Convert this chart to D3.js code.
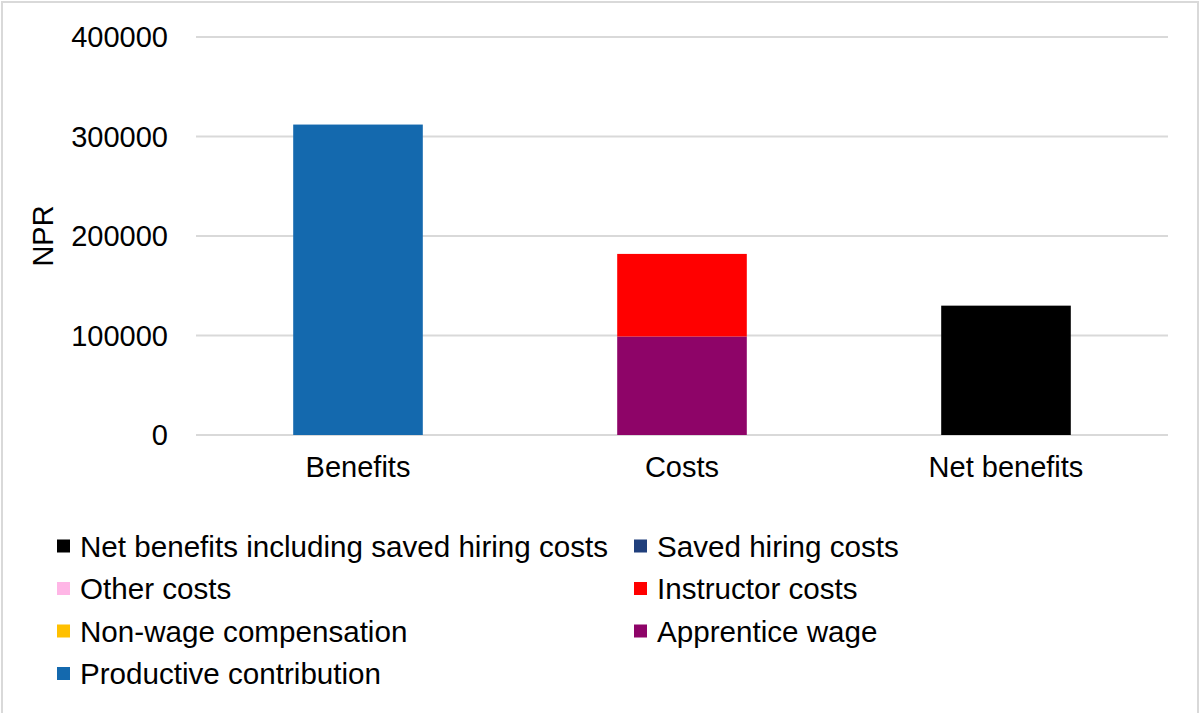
<!DOCTYPE html>
<html>
<head>
<meta charset="utf-8">
<script src="https://cdn.jsdelivr.net/npm/d3@7"></script>
<style>
  body { margin: 0; background: #fff; }
  svg { display: block; font-family: "Liberation Sans", Arial, sans-serif; }
</style>
</head>
<body>
<svg id="chart" width="1204" height="713"></svg>
<script>
// data
var categories = ["Benefits", "Costs", "Net benefits"];
var seriesNames = ["Productive contribution", "Apprentice wage", "Non-wage compensation",
  "Instructor costs", "Other costs", "Saved hiring costs", "Net benefits including saved hiring costs"];
var productive = [312000, 0, 0];
var apprenticeWage = [0, 99000, 0];
var nonWage = [0, 0, 0];
var instructor = [0, 83000, 0];
var otherCosts = [0, 0, 0];
var savedHiring = [0, 0, 0];
var netIncl = [0, 0, 130000];
var yTicks = [0, 100000, 200000, 300000, 400000];
var legendOrder = ["Net benefits including saved hiring costs", "Saved hiring costs",
  "Other costs", "Instructor costs", "Non-wage compensation", "Apprentice wage", "Productive contribution"];

var colors = {
  "Productive contribution": "#1469ae",
  "Apprentice wage": "#8e0468",
  "Non-wage compensation": "#ffc000",
  "Instructor costs": "#ff0000",
  "Other costs": "#ffb6e6",
  "Saved hiring costs": "#203f7c",
  "Net benefits including saved hiring costs": "#000000"
};

var seriesValues = [productive, apprenticeWage, nonWage, instructor, otherCosts, savedHiring, netIncl];
var rows = categories.map(function (c, i) {
  var r = { cat: c };
  seriesNames.forEach(function (s, j) { r[s] = seriesValues[j][i]; });
  return r;
});

var svg = d3.select("#chart");

// outer frame
svg.append("rect")
  .attr("x", 2).attr("y", 2).attr("width", 1196).attr("height", 720)
  .attr("fill", "none").attr("stroke", "#d9d9d9").attr("stroke-width", 2);

var x = d3.scaleBand().domain(categories).range([196, 1168]).paddingInner(0.6).paddingOuter(0.3);
var y = d3.scaleLinear().domain([0, 400000]).range([435, 37]);

// gridlines
svg.append("g").selectAll("line").data(yTicks).join("line")
  .attr("x1", 196).attr("x2", 1168)
  .attr("y1", function (d) { return y(d); }).attr("y2", function (d) { return y(d); })
  .attr("stroke", "#d9d9d9").attr("stroke-width", 2);

// y tick labels
svg.append("g").selectAll("text").data(yTicks).join("text")
  .attr("x", 168).attr("y", function (d) { return y(d); })
  .attr("dy", "0.36em").attr("text-anchor", "end")
  .attr("font-size", 29).attr("fill", "#000")
  .text(function (d) { return d; });

// y axis title
svg.append("text")
  .attr("transform", "translate(53,236) rotate(-90)")
  .attr("text-anchor", "middle").attr("font-size", 29)
  .text("NPR");

// stacked bars
var stack = d3.stack().keys(seriesNames);
var layers = stack(rows);
svg.append("g").selectAll("g").data(layers).join("g")
  .attr("fill", function (d) { return colors[d.key]; })
  .selectAll("rect").data(function (d) { return d; }).join("rect")
  .filter(function (d) { return d[1] - d[0] > 0; })
  .attr("x", function (d) { return x(d.data.cat); })
  .attr("width", x.bandwidth())
  .attr("y", function (d) { return y(d[1]); })
  .attr("height", function (d) { return y(d[0]) - y(d[1]); });

// category labels
svg.append("g").selectAll("text").data(categories).join("text")
  .attr("x", function (d) { return x(d) + x.bandwidth() / 2; })
  .attr("y", 477).attr("text-anchor", "middle")
  .attr("font-size", 29).text(function (d) { return d; });

// legend
var legendCols = [57, 634];
var legend = svg.append("g").selectAll("g").data(legendOrder).join("g")
  .attr("transform", function (d, i) {
    return "translate(" + legendCols[i % 2] + "," + (556.5 + Math.floor(i / 2) * 42.5) + ")";
  });
legend.append("rect")
  .attr("x", 0).attr("y", -17).attr("width", 13).attr("height", 13)
  .attr("fill", function (d) { return colors[d]; });
legend.append("text")
  .attr("x", 23).attr("y", 0).attr("font-size", 29.6)
  .text(function (d) { return d; });
</script>
</body>
</html>
